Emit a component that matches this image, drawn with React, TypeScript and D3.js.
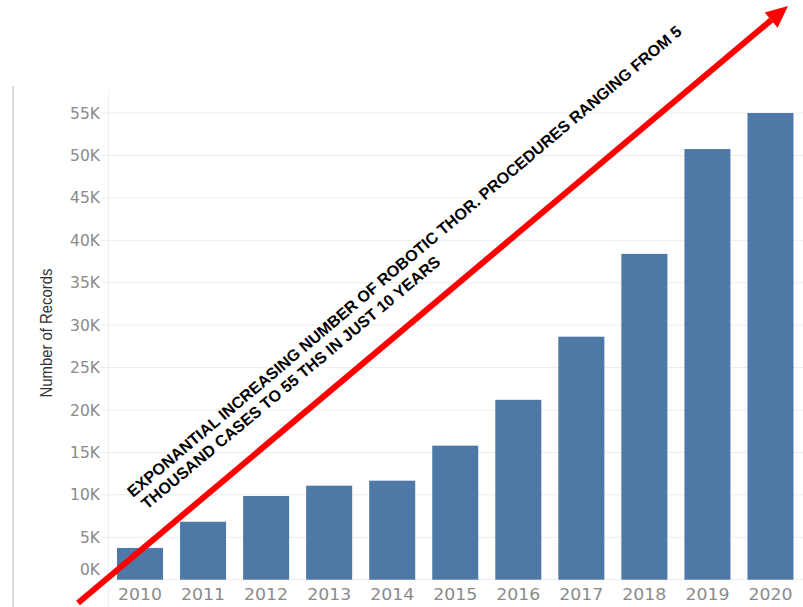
import React from "react";
import * as d3 from "d3";

const years = ["2010", "2011", "2012", "2013", "2014", "2015", "2016", "2017", "2018", "2019", "2020"];
const records = [3740, 6830, 9860, 11080, 11670, 15800, 21200, 28640, 38400, 50750, 55000];
const yTicks = [0, 5000, 10000, 15000, 20000, 25000, 30000, 35000, 40000, 45000, 50000, 55000];
const yTitle = "Number of Records";
const noteLine1 = "EXPONANTIAL INCREASING NUMBER OF ROBOTIC THOR. PROCEDURES RANGING FROM 5";
const noteLine2 = "THOUSAND CASES TO 55 THS IN JUST 10 YEARS";

const W = 803;
const H = 607;
const plotLeft = 108.5;
const plotRight = 802;
const baseY = 579.7;

export default function App() {
  const x = d3.scaleBand<string>().domain(years).range([plotLeft, plotRight]).paddingInner(0.27).paddingOuter(0.135);
  const y = d3.scaleLinear().domain([0, 55000]).range([baseY, 113]);
  const fmt = (v: number) => `${v / 1000}K`;

  const ax0 = 78, ay0 = 603, ax1 = 788, ay1 = 6;
  const ang = Math.atan2(ay1 - ay0, ax1 - ax0);
  const headLen = 22, headW = 10;
  const bx = ax1 - headLen * Math.cos(ang);
  const by = ay1 - headLen * Math.sin(ang);
  const px = -Math.sin(ang), py = Math.cos(ang);
  const head = `M${ax1},${ay1} L${bx + px * headW},${by + py * headW} L${bx - px * headW},${by - py * headW} Z`;

  return (
    <svg width={W} height={H} style={{ position: "fixed", left: 0, top: 0, background: "#fff" }}>
      <rect x={0} y={0} width={W} height={H} fill="#fff" />
      <line x1={13} x2={13} y1={86} y2={H} stroke="#cfcfcf" strokeWidth={1.5} />
      <line x1={plotLeft} x2={plotLeft} y1={90} y2={H} stroke="#f0f0f0" strokeWidth={1} />
      {yTicks.map((t) => (
        <line key={t} x1={101} x2={W} y1={y(t)} y2={y(t)} stroke="#ececec" strokeWidth={1} />
      ))}
      {yTicks.map((t) => (
        <text
          key={"l" + t}
          x={100}
          y={t === 0 ? y(t) - 10 : y(t)}
          dy="0.36em"
          textAnchor="end"
          fontFamily="DejaVu Sans, sans-serif"
          fontSize={15.5}
          fill="#8a8a8a"
        >
          {fmt(t)}
        </text>
      ))}
      <text
        transform={`translate(52,333) rotate(-90)`}
        textAnchor="middle"
        fontFamily="Liberation Sans, Arial, sans-serif"
        fontSize={16.5}
        fill="#333"
        textLength={129}
        lengthAdjust="spacingAndGlyphs"
      >
        {yTitle}
      </text>
      {years.map((yr, i) => (
        <rect
          key={yr}
          x={x(yr)}
          y={y(records[i])}
          width={x.bandwidth()}
          height={baseY - y(records[i])}
          fill="#4e79a7"
        />
      ))}
      {years.map((yr) => (
        <text
          key={"x" + yr}
          x={(x(yr) as number) + x.bandwidth() / 2}
          y={600}
          textAnchor="middle"
          fontFamily="DejaVu Sans, sans-serif"
          fontSize={16}
          fill="#8a8a8a"
          textLength={44}
          lengthAdjust="spacingAndGlyphs"
        >
          {yr}
        </text>
      ))}
      <text
        transform={`translate(133,498) rotate(-40.2)`}
        fontFamily="Liberation Sans, Arial, sans-serif"
        fontWeight="bold"
        fontSize={16}
        fill="#000"
        textLength={720}
        lengthAdjust="spacingAndGlyphs"
      >
        {noteLine1}
      </text>
      <text
        transform={`translate(147,510) rotate(-39.9)`}
        fontFamily="Liberation Sans, Arial, sans-serif"
        fontWeight="bold"
        fontSize={16}
        fill="#000"
        textLength={384}
        lengthAdjust="spacingAndGlyphs"
      >
        {noteLine2}
      </text>
      <line x1={ax0} y1={ay0} x2={bx} y2={by} stroke="#ff0000" strokeWidth={6} />
      <path d={head} fill="#ff0000" />
    </svg>
  );
}
